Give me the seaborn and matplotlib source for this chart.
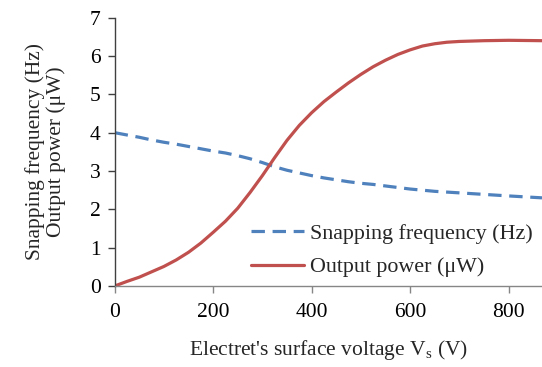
import matplotlib
matplotlib.use("Agg")
import matplotlib.pyplot as plt
import seaborn as sns
import pandas as pd

voltage = [0, 25, 50, 75, 100, 125, 150, 175, 200, 225, 250, 275, 300, 325, 350, 375, 400,
           425, 450, 475, 500, 525, 550, 575, 600, 625, 650, 675, 700, 750, 800, 868]
power = [0.0, 0.12, 0.23, 0.37, 0.51, 0.68, 0.88, 1.12, 1.40, 1.69, 2.03, 2.44, 2.88, 3.35, 3.80, 4.19, 4.52,
         4.81, 5.06, 5.30, 5.52, 5.72, 5.89, 6.04, 6.16, 6.26, 6.32, 6.36, 6.38, 6.40, 6.41, 6.40]
frequency = [4.00, 3.94, 3.88, 3.81, 3.75, 3.70, 3.64, 3.58, 3.52, 3.47, 3.40, 3.32, 3.22, 3.11, 3.02, 2.95, 2.88,
             2.82, 2.77, 2.72, 2.68, 2.65, 2.61, 2.57, 2.53, 2.50, 2.47, 2.45, 2.43, 2.39, 2.35, 2.30]
x_ticks = [0, 200, 400, 600, 800]
y_ticks = [0, 1, 2, 3, 4, 5, 6, 7]

sns.set_theme(style="ticks")
plt.rcParams['font.family'] = ['Liberation Serif', 'DejaVu Serif']

fig = plt.figure(figsize=(5.42, 3.67), dpi=100)
ax = fig.add_axes([0.2116, 0.2207, 0.7884, 0.7311])

df = pd.DataFrame({"v": voltage, "f": frequency, "p": power})
sns.lineplot(data=df, x="v", y="f", ax=ax, color="#4F81BD", linewidth=2.3,
             linestyle=(0, (4.2, 2.4)), label="Snapping frequency (Hz)")
sns.lineplot(data=df, x="v", y="p", ax=ax, color="#C0504D", linewidth=2.3,
             label="Output power (\u03bcW)")

ax.set_xlim(0, 868)
ax.set_ylim(0, 7)
ax.set_xticks(x_ticks)
ax.set_yticks(y_ticks)
ax.tick_params(axis="both", labelsize=15.5, direction="out", length=5, width=1, colors="#404040", labelcolor="black")
ax.tick_params(axis="x", colors="#868686", labelcolor="black", pad=7)
ax.tick_params(axis="y", pad=5)
for s in ["top", "right"]:
    ax.spines[s].set_visible(False)
ax.spines["left"].set_color("#404040")
ax.spines["left"].set_linewidth(1)
ax.spines["bottom"].set_color("#868686")
ax.spines["bottom"].set_linewidth(1)

ax.set_xlabel("Electret's surface voltage V$_\\mathregular{s}$ (V)", fontsize=15.5, labelpad=12)
ax.set_ylabel("Snapping frequency (Hz)\nOutput power (\u03bcW)", fontsize=15.5, labelpad=17, linespacing=1.1)

leg = ax.legend(loc="lower right", bbox_to_anchor=(1.0, 0.0), frameon=False, fontsize=15.8,
                handlelength=2.4, handletextpad=0.3, labelspacing=0.6, borderaxespad=0)

fig.savefig("out.png", dpi=100)
